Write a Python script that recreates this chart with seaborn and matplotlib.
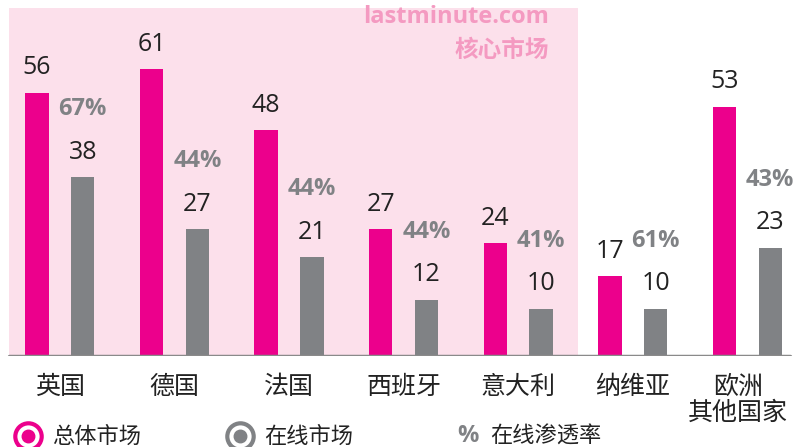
import seaborn as sns
import matplotlib.pyplot as plt
from matplotlib.lines import Line2D
from matplotlib.transforms import ScaledTranslation
import pandas as pd

# datos del grafico
categories = ['英国', '德国', '法国', '西班牙', '意大利', '纳维亚', '欧洲\n其他国家']
total_market = [56, 61, 48, 27, 24, 17, 53]
online_market = [38, 27, 21, 12, 10, 10, 23]
online_pct = ['67%', '44%', '44%', '44%', '41%', '61%', '43%']
series_names = ['总体市场', '在线市场']

magenta = '#EC008C'
grey = '#808285'
pink_bg = '#FCE0EB'
cjk = ['Noto Sans CJK SC', 'DejaVu Sans']

sns.set_style('white')
plt.rcParams['font.family'] = ['Open Sans', 'Noto Sans CJK SC', 'DejaVu Sans']

df = pd.DataFrame({
    'cat': categories * 2,
    'val': total_market + online_market,
    'serie': [series_names[0]] * len(categories) + [series_names[1]] * len(categories),
})

fig = plt.figure(figsize=(7.94, 4.47), dpi=100)
ax = fig.add_axes([0, 91 / 447, 1, 356 / 447])

# fondo rosa de los mercados principales
ax.axvspan(-0.443, 4.52, ymin=0, ymax=348 / 356, color=pink_bg, lw=0, zorder=0)

sns.barplot(data=df, x='cat', y='val', hue='serie', palette=[magenta, grey],
            saturation=1, width=0.8, gap=0.49, linewidth=0, legend=False, ax=ax, zorder=2)

ax.set_xlim(-0.522, 6.407)
ax.set_ylim(0, 75.7)

# etiquetas de valores
for cont in ax.containers:
    ax.bar_label(cont, fmt='%d', padding=9, fontsize=18, color='#222222')

# porcentaje online sobre la barra gris
for bar, pct in zip(ax.containers[1], online_pct):
    ax.annotate(pct, (bar.get_x() + bar.get_width() / 2, bar.get_height()),
                xytext=(0, 49), textcoords='offset points', ha='center', va='center',
                fontsize=17, fontweight='bold', color=grey)

ax.axhline(0, xmin=9 / 794, xmax=790 / 794, color='#8a8a8a', lw=2.5, zorder=3)

ax.text(4.27, 74.6, 'lastminute.com', ha='right', va='top', fontsize=17,
        fontweight='bold', color='#F49AC1')
ax.text(4.27, 67.7, '核心市场', ha='right', va='top', fontsize=17,
        fontweight='bold', color='#F49AC1', family=cjk)

ax.set(xlabel='', ylabel='', yticks=[])
ax.tick_params(axis='x', length=0, pad=13)
for lbl in ax.get_xticklabels():
    lbl.set_fontsize(18)
    lbl.set_color('#222222')
    lbl.set_family(cjk)
    lbl.set_va('top')
    lbl.set_linespacing(1.0)
# la ultima etiqueta un poco a la izquierda para que quepa
last = ax.get_xticklabels()[-1]
last.set_transform(last.get_transform() + ScaledTranslation(-9 / 100, 0, fig.dpi_scale_trans))
sns.despine(ax=ax, left=True, bottom=True)
ax.patch.set_alpha(0)

# leyenda manual
ly = 11 / 447
for xc, col in [(28 / 794, magenta), (240 / 794, grey)]:
    fig.add_artist(Line2D([xc], [ly], marker='o', markersize=19, markerfacecolor='white',
                          markeredgecolor=col, markeredgewidth=3, transform=fig.transFigure))
    fig.add_artist(Line2D([xc], [ly], marker='o', markersize=9, markerfacecolor=col,
                          markeredgecolor=col, transform=fig.transFigure))
fig.text(52 / 794, ly, '总体市场', va='center', fontsize=16, color='#222222', family=cjk)
fig.text(264 / 794, ly, '在线市场', va='center', fontsize=16, color='#222222', family=cjk)
fig.text(457 / 794, ly, '%', va='center', fontsize=17, fontweight='bold', color=grey)
fig.text(490 / 794, ly, '在线渗透率', va='center', fontsize=16, color='#222222', family=cjk)

fig.savefig('out.png', dpi=100)
